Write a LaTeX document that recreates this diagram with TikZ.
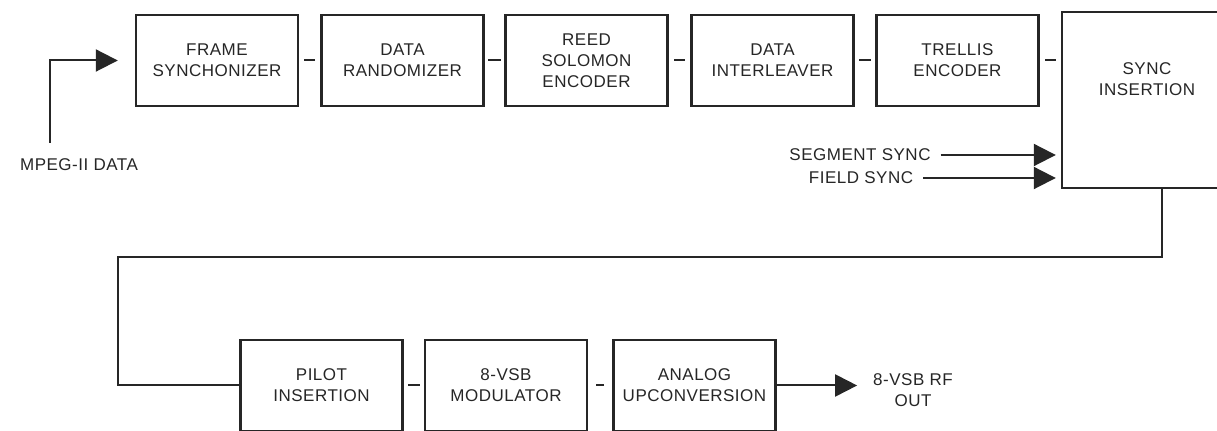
\documentclass[tikz,border=0pt]{standalone}
\usepackage{fontspec}
\setmainfont{Liberation Sans}[LetterSpace=3]
\usepackage{tikz}
\usetikzlibrary{arrows.meta}

\begin{document}
\begin{tikzpicture}[x=0.5pt, y=-0.5pt]
    \tikzstyle{block} = [rectangle, draw=black!85, line width=1.2pt, align=center, text=black!85, minimum width=81pt, minimum height=45.5pt, inner sep=0pt, font=\fontsize{8.5}{10.5}\selectfont]
    \tikzstyle{lbl} = [align=center, text=black!85, font=\fontsize{8.5}{10.5}\selectfont]
    \tikzstyle{wire} = [draw=black!85, line width=1pt]
    \tikzstyle{arr} = [wire, -{Triangle[length=11pt, width=11pt]}]
    \tikzstyle{gap} = [wire, shorten >=8pt, shorten <=8pt]

    \useasboundingbox (0,0) rectangle (1217,431);

    % Top row
    \node[block] (fs) at (217,60.5) {FRAME\\SYNCHONIZER};
    \node[block] (dr) at (402.5,60.5) {DATA\\RANDOMIZER};
    \node[block] (rs) at (586.5,60.5) {REED\\SOLOMON\\ENCODER};
    \node[block] (di) at (772.5,60.5) {DATA\\INTERLEAVER};
    \node[block] (te) at (957.5,60.5) {TRELLIS\\ENCODER};
    \node[block, minimum width=85pt, minimum height=88pt] (si) at (1147,100) {SYNC\\INSERTION\\[10pt]};

    % Bottom row
    \node[block] (pi) at (321.5,385.5) {PILOT\\INSERTION};
    \node[block] (vm) at (506,385.5) {8-VSB\\MODULATOR};
    \node[block] (au) at (694.5,385.5) {ANALOG\\UPCONVERSION};

    % Labels
    \node[lbl] (mpeg) at (79,165) {MPEG-II DATA};
    \node[lbl] (seg) at (860,155) {SEGMENT SYNC};
    \node[lbl] (fld) at (861,178) {FIELD SYNC};
    \node[lbl] (out) at (913,390) {8-VSB RF\\OUT};

    % Input
    \coordinate (in) at (50,143);
    \draw[arr, shorten >=8.5pt] (in) |- (fs.west);

    % Gaps between blocks
    \draw[gap] (fs.east) -- (dr.west);
    \draw[gap] (dr.east) -- (rs.west);
    \draw[gap] (rs.east) -- (di.west);
    \draw[gap] (di.east) -- (te.west);
    \draw[gap] (te.east) -- (te.east -| si.west);
    \draw[gap] (pi.east) -- (vm.west);
    \draw[gap] (vm.east) -- (au.west);

    % Sync inputs
    \draw[arr, shorten <=1.5pt, shorten >=2.5pt] (seg.east) -- (seg.east -| si.west);
    \draw[arr, shorten <=1.5pt, shorten >=2.5pt] (fld.east) -- (fld.east -| si.west);

    % Return path
    \coordinate (turn) at (1162,257);
    \coordinate (back) at (118,257);
    \draw[wire] (si.south -| turn) -- (turn) -- (back) |- (pi.west);

    % Output
    \draw[arr, shorten >=4.5pt] (au.east) -- (au.east -| out.west);
\end{tikzpicture}
\end{document}
